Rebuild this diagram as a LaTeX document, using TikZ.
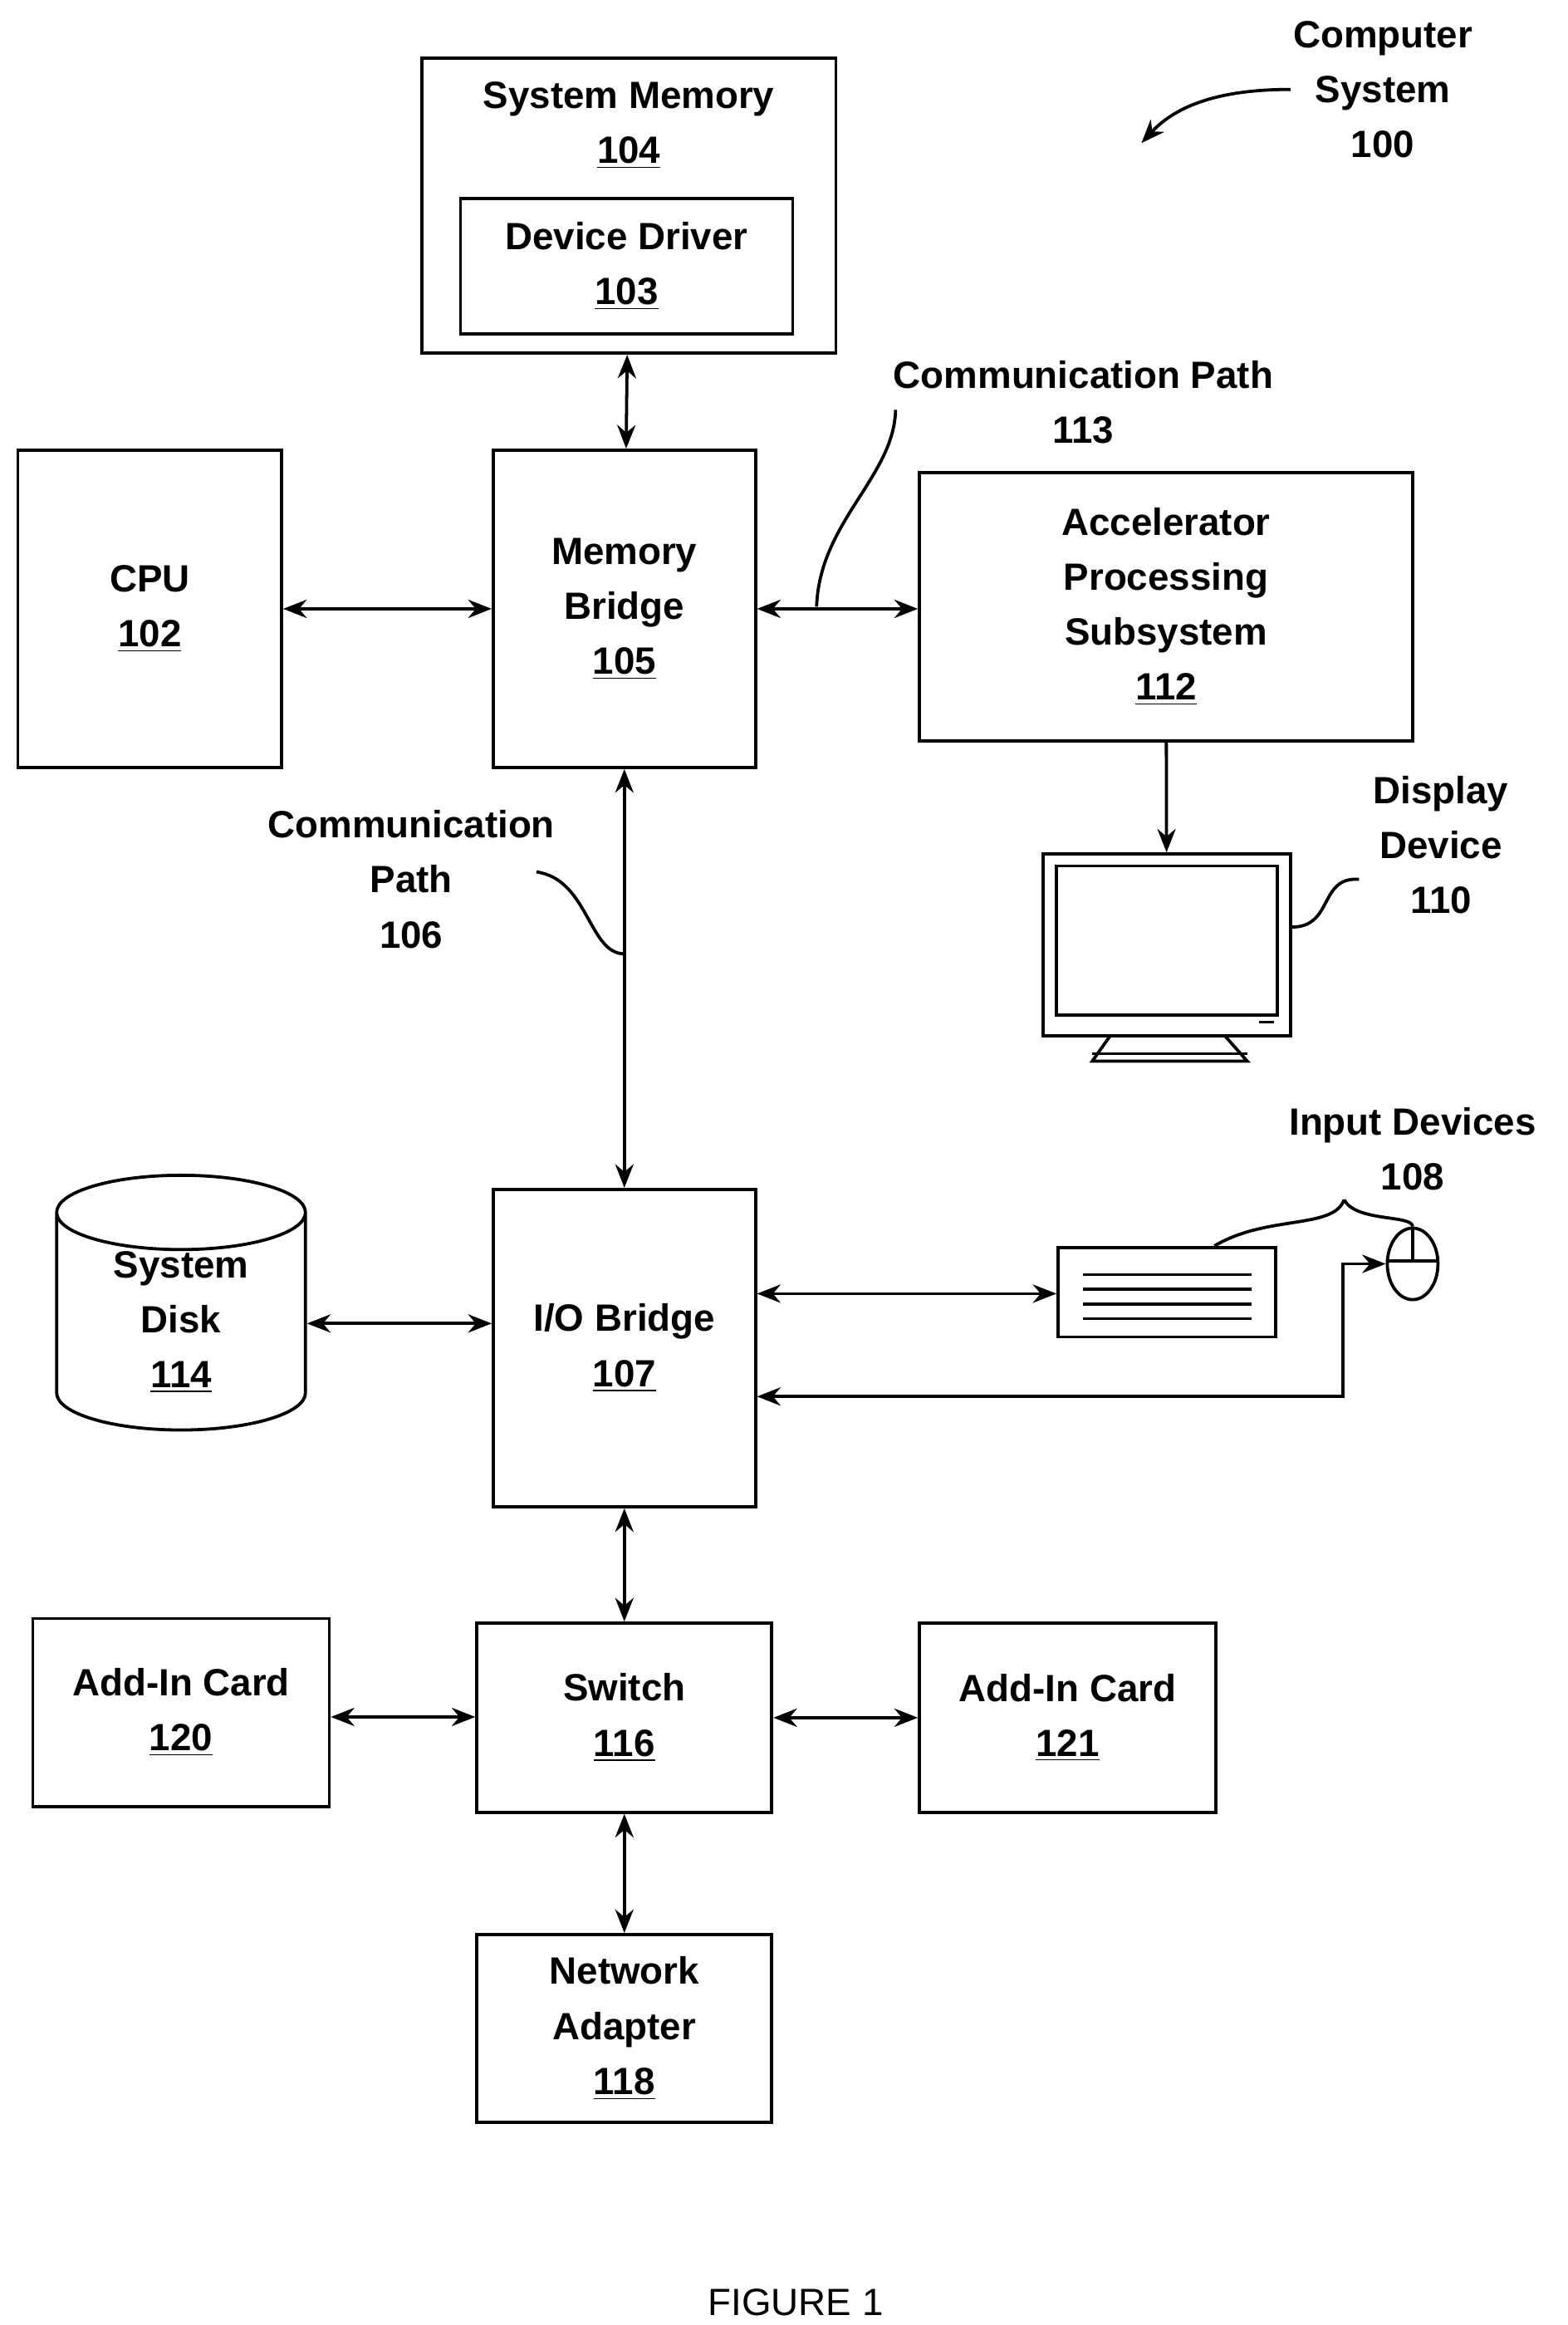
\documentclass[tikz,border=0pt]{standalone}
\usepackage{fontspec}
\setmainfont{Liberation Sans}
\usetikzlibrary{arrows.meta,shapes.geometric}
\tikzset{
    blk/.style={draw, line width=1.2pt, align=center, font=\bfseries\fontsize{14.5}{21}\selectfont, inner sep=0pt},
    lbl/.style={align=center, font=\bfseries\fontsize{14.5}{21}\selectfont, inner sep=0pt},
    link/.style={line width=1.2pt, {Stealth[length=9pt,width=7pt]}-{Stealth[length=9pt,width=7pt]}},
    link1/.style={line width=1.2pt, -{Stealth[length=9pt,width=7pt]}},
    lead/.style={line width=1.2pt}
  }
\newcommand{\nm}[1]{\underline{#1}}
\begin{document}
\begin{tikzpicture}[x=0.02cm, y=-0.02cm]
 \useasboundingbox (0,0) rectangle (1052,1560);
 % memory
     \node[blk, minimum width=5.56cm, minimum height=3.96cm] (sysmem) at (422,138) {};
     \node[lbl] (smtxt) at (422,84) {System Memory\\\nm{104}};
     \node[blk, minimum width=4.46cm, minimum height=1.82cm] (drv) at (420.5,178.5) {Device Driver\\\nm{103}};
 % main row
     \node[blk, minimum width=3.54cm, minimum height=4.26cm] (cpu) at (100.5,408.5) {CPU\\\nm{102}};
     \node[blk, minimum width=3.52cm, minimum height=4.26cm] (mb) at (419,408.5) {Memory\\Bridge\\\nm{105}};
     \node[blk, minimum width=6.62cm, minimum height=3.60cm] (acc) at (782.5,407) {Accelerator\\Processing\\Subsystem\\\nm{112}};
 % display
     \node[draw, line width=1.2pt, minimum width=3.32cm, minimum height=2.44cm, inner sep=0pt] (disp) at (783,634) {};
     \draw[line width=1.2pt] (709,581) rectangle (857,681);
     \draw[line width=1pt] (845,686) -- (855,686);
     \draw[line width=1.2pt] (745,695) -- (733,712) -- (837,712) -- (822,695);
     \draw[line width=1.2pt] (733,707) -- (837,707);
     \node[lbl] (displbl) at (967,567) {Display\\Device\\110};
     \draw[lead] (disp.east |- 0,622) .. controls (895,622) and (885,588) .. (912,590);
 % I/O
     \node[blk, minimum width=3.52cm, minimum height=4.26cm] (io) at (419,904.5) {I/O Bridge\\\nm{107}};
     \node[cylinder, shape border rotate=90, draw, line width=1.2pt, minimum width=3.34cm, minimum height=3.30cm, aspect=0.55, align=center, font=\bfseries\fontsize{14.5}{21}\selectfont, inner sep=0pt] (disk) at (121.5,887) {System\\Disk\\\nm{114}};
     \node[draw, line width=1.2pt, minimum width=2.92cm, minimum height=1.20cm, inner sep=0pt] (kbd) at (783,867) {};
     \foreach \yy in {855,865,875,885} \draw[line width=1pt] (727,\yy) -- (840,\yy);
     \node[ellipse, draw, line width=1.2pt, minimum width=0.68cm, minimum height=0.96cm, inner sep=0pt] (mouse) at (948,848) {};
     \draw[line width=1pt] (931,846) -- (965,846) (948,824) -- (948,846);
     \node[lbl] (inlbl) at (948,771) {Input Devices\\108};
     \draw[lead] (kbd.north) ++(32,0) coordinate (kt) .. controls (850,815) and (895,825) .. (902,805);
     \draw[lead] (mouse.north) .. controls (948,815) and (910,820) .. (902,805);
     \coordinate (bend) at (901,937);
 % switch row
     \node[blk, minimum width=3.96cm, minimum height=2.54cm] (sw) at (419,1152.5) {Switch\\\nm{116}};
     \node[blk, minimum width=3.98cm, minimum height=2.52cm] (card0) at (121.5,1149) {Add-In Card\\\nm{120}};
     \node[blk, minimum width=3.98cm, minimum height=2.54cm] (card1) at (716.5,1152.5) {Add-In Card\\\nm{121}};
     \node[blk, minimum width=3.96cm, minimum height=2.52cm] (net) at (419,1361) {Network\\Adapter\\\nm{118}};
 % connectors
     \draw[link] (sysmem) -- (mb);
     \draw[link] (cpu) -- (mb);
     \draw[link] (mb) -- (acc.west |- mb);
     \draw[link1] (acc) -- (disp);
     \draw[link] (mb) -- (io);
     \draw[link] (disk.east |- 0,888) -- (io.west |- 0,888);
     \draw[link] (io.east |- 0,868) -- (kbd.west |- 0,868);
     \draw[link] (io.east |- bend) -- (bend) |- (mouse.west);
     \draw[link] (io) -- (sw);
     \draw[link] (card0.east |- 0,1152) -- (sw.west |- 0,1152);
     \draw[link] (sw) -- (card1);
     \draw[link] (sw) -- (net);
 % path labels
     \node[lbl] (p113) at (727,270) {Communication Path\\113};
     \draw[lead] (548,407) .. controls (550,350) and (600,320) .. (601,275);
     \node[lbl] (p106) at (276,590) {Communication\\Path\\106};
     \draw[lead] (360,585) .. controls (395,590) and (395,640) .. (419,640);
 % title
     \node[lbl] (sys) at (928,60) {Computer\\System\\100};
     \draw[line width=1.2pt, -{Stealth[length=9pt,width=7pt]}] (866,60) .. controls (820,60) and (790,70) .. (766,96);
     \node[font=\fontsize{14.5}{21}\selectfont] (fig) at (534,1545) {FIGURE 1};
 \end{tikzpicture}
\end{document}
